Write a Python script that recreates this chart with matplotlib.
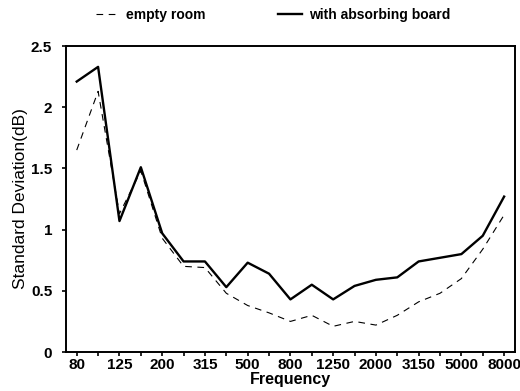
import numpy as np
import matplotlib
matplotlib.use('Agg')
import matplotlib.pyplot as plt

# --------- Data ---------
freqs = ['80', '100', '125', '160', '200', '250', '315', '400', '500', '630',
         '800', '1000', '1250', '1600', '2000', '2500', '3150', '4000', '5000',
         '6300', '8000']
shown_labels = ['80', '125', '200', '315', '500', '800', '1250', '2000',
                '3150', '5000', '8000']
empty_room = [1.65, 2.13, 1.13, 1.48, 0.93, 0.70, 0.69, 0.48, 0.38, 0.32,
              0.25, 0.30, 0.21, 0.25, 0.22, 0.30, 0.41, 0.48, 0.60, 0.84, 1.12]
absorbing = [2.21, 2.33, 1.07, 1.51, 0.97, 0.74, 0.74, 0.53, 0.73, 0.64,
             0.43, 0.55, 0.43, 0.54, 0.59, 0.61, 0.74, 0.77, 0.80, 0.95, 1.27]

plt.rcParams['font.family'] = ['Liberation Sans', 'DejaVu Sans']

# --------- Plot ---------
fig = plt.figure(figsize=(5.2, 3.91), dpi=100)
ax = fig.add_axes([0.127, 0.0997, 0.863, 0.7825])

x = np.arange(len(freqs))
ax.plot(x, empty_room, color='black', lw=0.8, ls=(0, (6, 5)), label='empty room')
ax.plot(x, absorbing, color='black', lw=1.7, label='with absorbing board')

ax.set_xlim(-0.5, len(freqs) - 0.5)
ax.set_ylim(0, 2.5)
ax.set_yticks([0, 0.5, 1, 1.5, 2, 2.5])
ax.set_yticklabels(['0', '0.5', '1', '1.5', '2', '2.5'], fontweight='bold', fontsize=11)
ax.set_xticks(x)
ax.set_xticklabels([f if f in shown_labels else '' for f in freqs],
                   fontweight='bold', fontsize=11)
ax.tick_params(axis='x', direction='out', length=3, width=1.2, pad=1)
ax.tick_params(axis='y', direction='out', length=3, width=1.2, pad=7)

for s in ax.spines.values():
    s.set_linewidth(1.4)

ax.set_xlabel('Frequency', fontweight='bold', fontsize=11.5, labelpad=0)
ax.set_ylabel('Standard Deviation(dB)', fontsize=12.5, labelpad=2)

fig.legend(loc='center', bbox_to_anchor=(0.525, 0.962), ncol=2, frameon=False,
           handlelength=1.7, handletextpad=0.5, columnspacing=5.2,
           prop={'weight': 'bold', 'size': 10})

plt.savefig('out.png', dpi=100)
